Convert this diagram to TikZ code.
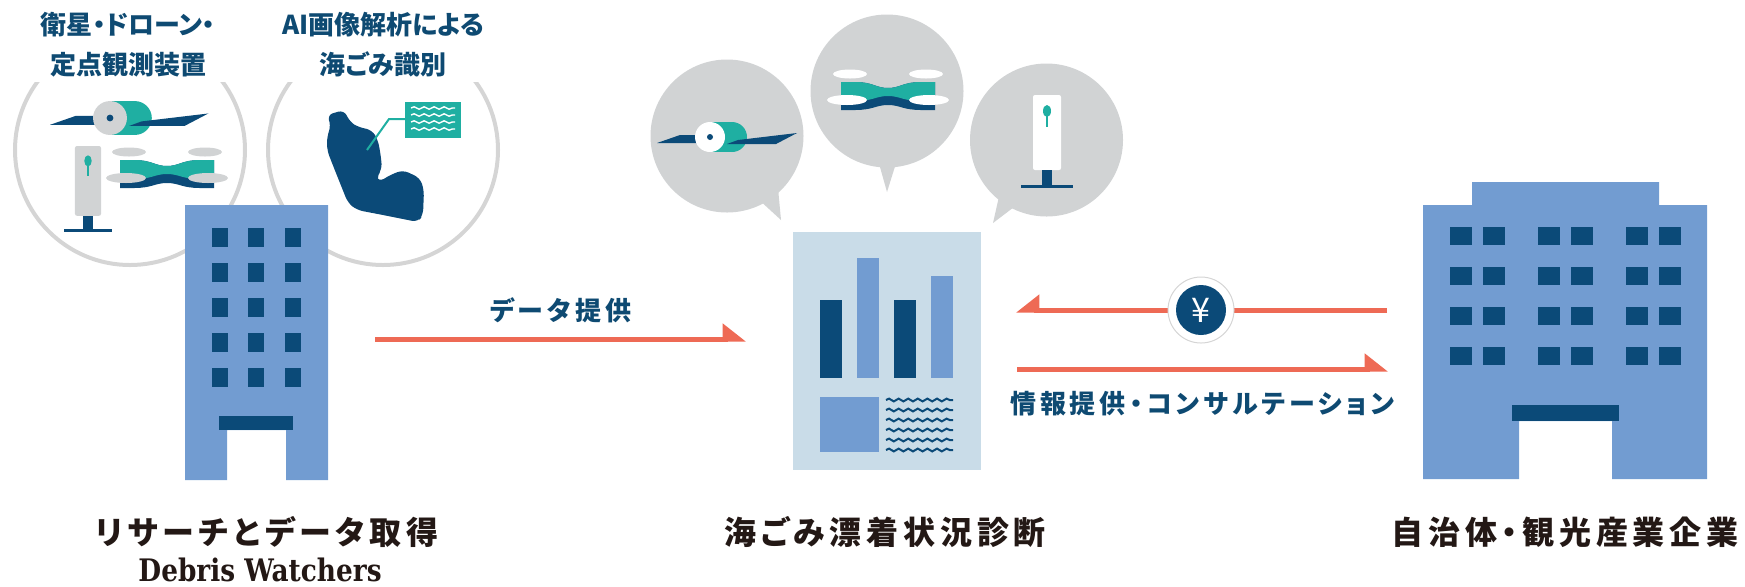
\documentclass[tikz,border=0pt]{standalone}
\usepackage{fontspec}
\setmainfont{Noto Sans CJK JP}[RawFeature=+palt]
\newfontfamily\spacedfont{Noto Sans CJK JP}[RawFeature=+palt, LetterSpace=15]
\newfontfamily\slabfont{DejaVu Serif}[FakeStretch=0.85]
\usetikzlibrary{arrows.meta,decorations.pathmorphing}

\definecolor{navy}{HTML}{0B4A78}
\definecolor{bldg}{HTML}{729CD1}
\definecolor{docbg}{HTML}{C9DCE8}
\definecolor{seateal}{HTML}{1FAFA2}
\definecolor{bubblegray}{HTML}{D1D3D4}
\definecolor{ringgray}{HTML}{D5D5D5}
\definecolor{coral}{HTML}{EE6A55}
\definecolor{inkblue}{HTML}{0E4A72}
\definecolor{ink}{HTML}{231815}

% small icons, #1 = colour of the light parts
\tikzset{
  pics/satellite/.style={code={
    \fill[navy] (-53,6) -- (-30,-2) -- (0,-2) -- (0,6) -- cycle;
    \fill[seateal] (0,-15) rectangle (22,15);
    \fill[seateal] (22,0) circle (15);
    \fill[#1] (0,0) circle (15);
    \fill[navy] (0,0) circle (3);
    \fill[navy] (17,7) -- (28,3) -- (87,-4) -- (66,7) -- cycle;
  }},
  pics/drone/.style={code={
    \fill[#1] (-38,-21) ellipse [x radius=17, y radius=4.5];
    \fill[#1] (38,-21) ellipse [x radius=17, y radius=4.5];
    \fill[navy] (-47,-13) -- (-33,-13) .. controls (-15,-13) and (-12,-7) .. (0,-7)
      .. controls (12,-7) and (15,-13) .. (33,-13) -- (47,-13) -- (47,15) -- (33,15)
      .. controls (15,15) and (12,10) .. (0,10) .. controls (-12,10) and (-15,15) .. (-33,15)
      -- (-47,15) -- cycle;
    \fill[seateal] (-47,-13) -- (-33,-13) .. controls (-15,-13) and (-12,-7) .. (0,-7)
      .. controls (12,-7) and (15,-13) .. (33,-13) -- (47,-13) -- (47,6) -- (33,6)
      .. controls (15,6) and (12,1) .. (0,1) .. controls (-12,1) and (-15,6) .. (-33,6)
      -- (-47,6) -- cycle;
    \fill[#1] (-41,5) ellipse [x radius=20, y radius=5];
    \fill[#1] (41,5) ellipse [x radius=20, y radius=5];
  }},
  pics/sensor/.style={code={
    \fill[#1, rounded corners=1pt] (-14,0) rectangle (14,75);
    \fill[navy] (-5,75) rectangle (5,91);
    \fill[navy] (-26,89.5) rectangle (26,92.5);
    \fill[seateal] (0,16) ellipse [x radius=4, y radius=6];
    \fill[seateal] (-1.2,18) rectangle (1.2,32);
  }},
}

\begin{document}
\begin{tikzpicture}[x=0.5pt, y=-0.5pt,
    ring/.style={draw=ringgray, line width=2pt},
    bubble/.style={fill=bubblegray},
    window/.style={fill=navy},
    wave/.style={decorate, decoration={snake, amplitude=0.7pt, segment length=4.8pt}},
    flow/.style={draw=coral, line width=2.5pt, -{Triangle[left, length=10pt, width=15pt]}},
    flowback/.style={draw=coral, line width=2.5pt, -{Triangle[right, length=10pt, width=15pt]}},
    toptext/.style={text=inkblue, font=\bfseries\fontsize{13}{20}\selectfont, align=center, inner sep=0},
    flowtext/.style={text=inkblue, font=\spacedfont\bfseries\fontsize{13}{16}\selectfont, inner sep=0},
    nametext/.style={text=ink, font=\spacedfont\bfseries\fontsize{16}{19}\selectfont, inner sep=0}]
  \useasboundingbox (0,0) rectangle (1745,586);

  % research side: two rings with captions
  \node[toptext] (sensorcap) at (128,45) {衛星・ドローン・\\定点観測装置};
  \node[toptext] (aicap) at (383,45) {AI画像解析による\\海ごみ識別};
  \begin{scope}
    \clip (0,82) rectangle (540,300);
    \draw[ring] (130,150) circle (115);
    \draw[ring] (383,150) circle (115);
  \end{scope}
  \pic[scale=1.13] at (110,118) {satellite=bubblegray};
  \pic at (167,173) {drone=bubblegray};
  \pic[scale=0.93] at (88,146) {sensor=bubblegray};

  % bottle and its tag
  \fill[navy, rounded corners=3pt] (327,115) -- (344,110) -- (350,122) -- (358,127) -- (372,130)
    -- (378,140) -- (381,157) -- (382,170) -- (376,177) -- (379,182) -- (390,175) -- (403,170)
    -- (420,178) -- (424,190) -- (423,215) -- (418,222) -- (383,215) -- (357,210) -- (348,203)
    -- (340,183) -- (332,163) -- (327,150) -- (327,137) -- (331,125) -- cycle;
  \draw[seateal, line width=1pt] (367,150) -- (389,119) -- (405,119);
  \fill[seateal] (405,102) rectangle (461,138);
  \foreach \y in {108,115,122,129}
    \draw[white, line width=0.7pt, decorate, decoration={snake, amplitude=0.6pt, segment length=5pt}] (411,\y) -- (455,\y);

  % Debris Watchers building
  \fill[bldg] (185,205) -- (328,205) -- (328,480) -- (286,480) -- (286,430) -- (227,430) -- (227,480) -- (185,480) -- cycle;
  \foreach \x in {212,248,285}
    \foreach \y in {228,263,298,333,368}
      \fill[window] (\x,\y) rectangle ++(16,19);
  \fill[navy] (219,416) rectangle (293,430);
  \node[nametext] (labname) at (267,532) {リサーチとデータ取得};
  \node[text=ink, font=\slabfont\bfseries\fontsize{15.5}{17}\selectfont, inner sep=0] (labsub) at (260,570) {Debris Watchers};

  % speech bubbles
  \fill[bubble] (757,198) -- (781,220) -- (778,188) -- cycle;
  \fill[bubble] (727,136) circle (76.5);
  \fill[bubble] (878,160) -- (887,192) -- (897,160) -- cycle;
  \fill[bubble] (887,91) circle (76.5);
  \fill[bubble] (1000,192) -- (993,223) -- (1018,204) -- cycle;
  \fill[bubble] (1046.5,140) circle (76.5);
  \pic at (710,137) {satellite=white};
  \pic at (888,95) {drone=white};
  \pic at (1047,95) {sensor=white};

  % report sheet
  \node[fill=docbg, minimum width=94pt, minimum height=119pt, inner sep=0] (report) at (887,351) {};
  \fill[navy] (820,300) rectangle (842,378);
  \fill[bldg] (857,258) rectangle (879,378);
  \fill[navy] (894,300) rectangle (916,378);
  \fill[bldg] (931,276) rectangle (953,378);
  \fill[bldg] (820,397) rectangle (879,452);
  \foreach \y in {400,410,...,450}
    \draw[navy, line width=1pt, wave] (886,\y) -- (953,\y);
  \node[nametext] (reportname) at (885,532) {海ごみ漂着状況診断};

  % client building
  \fill[bldg] (1423,205) -- (1472,205) -- (1472,182) -- (1659,182) -- (1659,205) -- (1707,205)
    -- (1707,479) -- (1612,479) -- (1612,421) -- (1519,421) -- (1519,479) -- (1423,479) -- cycle;
  \foreach \x in {1450,1483,1538,1571,1626,1659}
    \foreach \y in {227,267,307,347}
      \fill[window] (\x,\y) rectangle ++(22,18);
  \fill[navy] (1512,405) rectangle (1619,421);
  \node[nametext] (clientname) at (1565,532) {自治体・観光産業企業};

  % flows
  \coordinate (data-from) at (375,339);
  \coordinate (data-to) at (746,339);
  \coordinate (fee-from) at (1387,310);
  \coordinate (fee-to) at (1016,310);
  \coordinate (info-from) at (1017,369);
  \coordinate (info-to) at (1388,369);
  \draw[flow] (data-from) -- node[flowtext, above=7pt] (datatext) {データ提供} (data-to);
  \draw[flowback] (fee-from) -- (fee-to);
  \draw[flow] (info-from) -- node[flowtext, below=10pt] (infotext) {情報提供・コンサルテーション} (info-to);
  \node[circle, fill=white, draw=ringgray, line width=0.5pt, minimum size=33pt, inner sep=0] (feering) at (1201,310) {};
  \node[circle, fill=navy, text=white, minimum size=25pt, inner sep=0, font=\fontsize{17}{17}\selectfont] (fee) at (1201,310) {¥};
\end{tikzpicture}
\end{document}
